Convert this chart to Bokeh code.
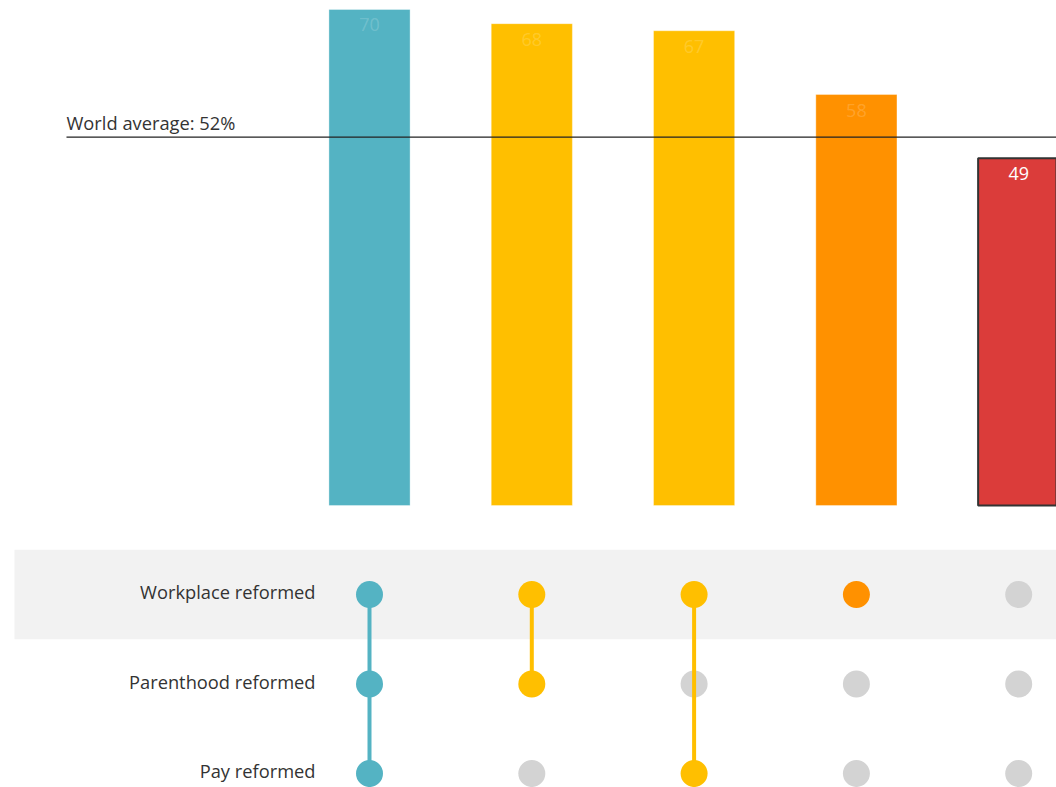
from bokeh.plotting import figure
from bokeh.layouts import column
from bokeh.models import ColumnDataSource, Range1d, BoxAnnotation, Label, LabelSet
from bokeh.core.properties import value
from bokeh.embed import file_html
from bokeh.resources import INLINE

# ---- data ----
combos = ["Workplace + Parenthood + Pay", "Workplace + Parenthood", "Workplace + Pay", "Workplace only", "None"]
values = [70, 68, 67, 58, 49]
bar_colors = ["#54B3C3", "#FFBF00", "#FFBF00", "#FF9100", "#DB3C3A"]
sets = ["Workplace reformed", "Parenthood reformed", "Pay reformed"]
membership = [
    [1, 1, 1],
    [1, 1, 0],
    [1, 0, 1],
    [1, 0, 0],
    [0, 0, 0],
]
world_average = 52
avg_label = "World average: 52%"

FONT = "Open Sans"
W = 1056
TOP_H = 530
BOT_H = 257

idx = list(range(len(values)))
x_range = Range1d(-2.2736, 4.2329)

# ---- top bar chart ----
p = figure(width=W, height=TOP_H, x_range=x_range, y_range=Range1d(-3.53, 71.27),
           output_backend="svg", toolbar_location=None, min_border=0,
           outline_line_color=None, background_fill_color="white", border_fill_color="white")
p.axis.visible = False
p.grid.visible = False

highlight = [v < world_average for v in values]
src = ColumnDataSource(dict(
    x=idx, top=values, color=bar_colors,
    line_color=["#333333" if h else "#ffffff" for h in highlight],
    line_alpha=[1.0 if h else 0.35 for h in highlight],
    line_width=[2 if h else 1 for h in highlight],
    label=[str(v) for v in values],
    label_alpha=[1.0 if h else 0.18 for h in highlight],
))
p.vbar(x="x", top="top", bottom=0, width=0.5, fill_color="color", line_color="line_color",
       line_alpha="line_alpha", line_width="line_width", source=src)

p.add_layout(LabelSet(x="x", y="top", text="label", source=src, text_align="center",
                      text_baseline="top", y_offset=-9, text_color="white",
                      text_alpha="label_alpha", text_font=value(FONT), text_font_size="18px"))

avg_x0 = -1.867
p.segment(x0=[avg_x0], y0=[world_average], x1=[len(values)], y1=[world_average],
          line_color="#222222", line_width=1.2)
p.add_layout(Label(x=avg_x0, y=world_average, text=avg_label, text_align="left",
                   text_baseline="bottom", y_offset=2, text_color="#333333",
                   text_font=FONT, text_font_size="18.3px"))

# ---- bottom matrix ----
q = figure(width=W, height=BOT_H, x_range=x_range, y_range=Range1d(-0.156, 2.715),
           output_backend="svg", toolbar_location=None, min_border=0,
           outline_line_color=None, background_fill_color="white", border_fill_color="white")
q.axis.visible = False
q.grid.visible = False

row_y = [2, 1, 0]
q.add_layout(BoxAnnotation(bottom=row_y[0] - 0.5, top=row_y[0] + 0.5, left=14, left_units="screen",
                           fill_color="#F2F2F2", fill_alpha=1, line_color=None, level="underlay"))

gx, gy, cx, cy, cc = [], [], [], [], []
sx0, sy0, sy1, sc = [], [], [], []
for i, mem in enumerate(membership):
    on = [row_y[j] for j in range(len(sets)) if mem[j]]
    for j in range(len(sets)):
        if mem[j]:
            cx.append(i); cy.append(row_y[j]); cc.append(bar_colors[i])
        else:
            gx.append(i); gy.append(row_y[j])
    if len(on) > 1:
        sx0.append(i); sy0.append(min(on)); sy1.append(max(on)); sc.append(bar_colors[i])

q.scatter(gx, gy, size=27, fill_color="#D3D3D3", line_color=None)
q.segment(x0=sx0, y0=sy0, x1=sx0, y1=sy1, line_color=sc, line_width=4)
q.scatter(cx, cy, size=27, fill_color=cc, line_color=None)

q.text(x=[0] * len(sets), y=row_y, text=sets, x_offset=-54, y_offset=-3, text_align="right",
       text_baseline="middle", text_color="#333333", text_font=value(FONT), text_font_size="18.3px")

layout = column(p, q, spacing=0)
open("out.html", "w").write(file_html(layout, INLINE))
